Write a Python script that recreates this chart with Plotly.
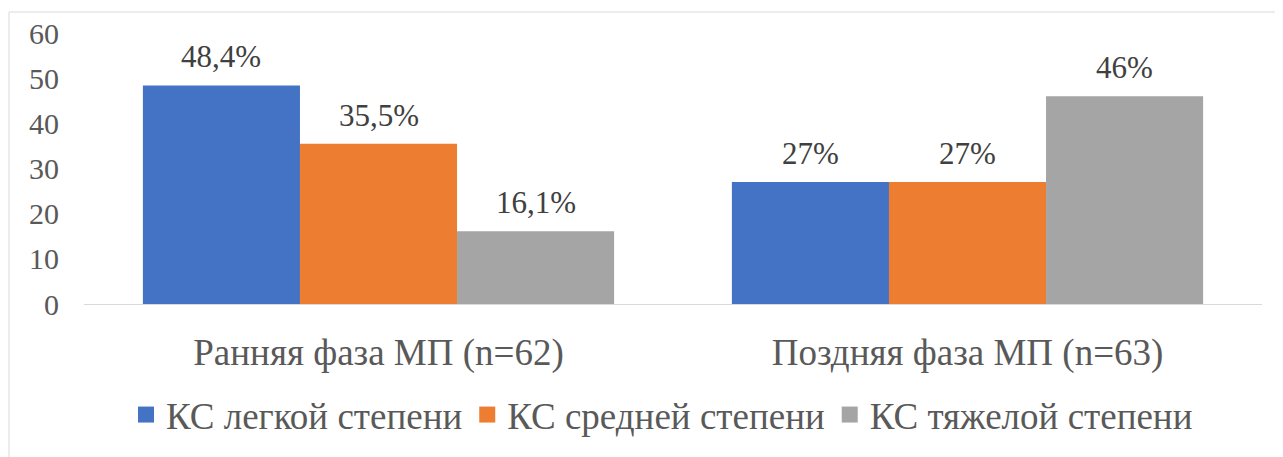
import plotly.graph_objects as go

categories = ["Ранняя фаза МП (n=62)", "Поздняя фаза МП (n=63)"]
series_names = ["КС легкой степени", "КС средней степени", "КС тяжелой степени"]
series_colors = ["#4472C4", "#ED7D31", "#A5A5A5"]
values_light = [48.4, 27]
values_medium = [35.5, 27]
values_heavy = [16.1, 46]
labels_light = ["48,4%", "27%"]
labels_medium = ["35,5%", "27%"]
labels_heavy = ["16,1%", "46%"]
y_ticks = [0, 10, 20, 30, 40, 50, 60]

series_values = [values_light, values_medium, values_heavy]
series_labels = [labels_light, labels_medium, labels_heavy]

FONT = "Liberation Serif, DejaVu Serif"
OFF = 8
W, H = 1283 - OFF, 457 - OFF
ML, MR, MT, MB = 84 - OFF, 21, 33 - OFF, 153
plot_w = W - ML - MR
plot_h = H - MT - MB
bargap = 0.2
bar_px = plot_w / len(categories) * (1 - bargap) / len(series_names)

fig = go.Figure()
for name, color, vals in zip(series_names, series_colors, series_values):
    fig.add_trace(go.Bar(x=categories, y=vals, name=name, marker_color=color,
                         marker_line_width=0, showlegend=False))
    fig.add_trace(go.Scatter(x=[categories[0]], y=[None], mode="markers", name=name,
                             marker=dict(symbol="square", size=19, color=color),
                             showlegend=True))

annotations = []
n = len(series_names)
for i, (vals, labs) in enumerate(zip(series_values, series_labels)):
    for cat, v, lab in zip(categories, vals, labs):
        annotations.append(dict(x=cat, y=v, xref="x", yref="y", text=lab, showarrow=False,
                                xshift=(i - (n - 1) / 2) * bar_px, yanchor="bottom", yshift=9,
                                font=dict(family=FONT, size=31, color="#404040")))

def px_to_paper_x(px):
    return (px - OFF - ML) / plot_w

def px_to_paper_y(py):
    return (H - MB - (py - OFF)) / plot_h

fig.update_layout(
    width=W, height=H,
    margin=dict(l=ML, r=MR, t=MT, b=MB, autoexpand=False),
    paper_bgcolor="white", plot_bgcolor="white",
    barmode="group", bargap=bargap, bargroupgap=0,
    font=dict(family=FONT, color="#595959"),
    annotations=annotations,
    legend=dict(orientation="h", x=px_to_paper_x(662), xanchor="center", y=px_to_paper_y(415),
                yanchor="middle", font=dict(family=FONT, size=37, color="#595959"),
                itemclick=False, traceorder="normal"),
    shapes=[dict(type="rect", xref="paper", yref="paper",
                 x0=px_to_paper_x(9), x1=px_to_paper_x(1300),
                 y0=px_to_paper_y(480), y1=px_to_paper_y(12),
                 line=dict(color="#D9D9D9", width=1), fillcolor="rgba(0,0,0,0)", layer="below")],
)
fig.update_yaxes(range=[0, 60], tickvals=y_ticks, showgrid=False, zeroline=False, showline=False,
                 ticks="", ticklabelstandoff=24, automargin=False,
                 tickfont=dict(family=FONT, size=30, color="#595959"))
fig.update_xaxes(showline=True, linecolor="#D9D9D9", linewidth=1, ticks="", showgrid=False,
                 ticklabelstandoff=16, automargin=False,
                 tickfont=dict(family=FONT, size=37, color="#595959"))

fig.write_html("out.html")
